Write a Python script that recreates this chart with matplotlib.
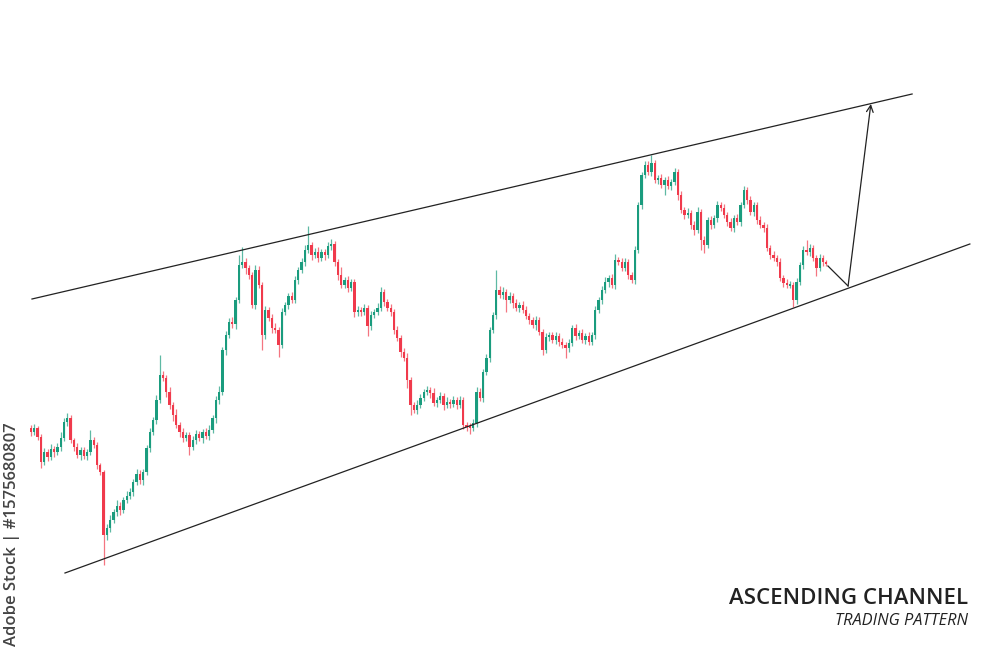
import matplotlib
matplotlib.use("Agg")
import matplotlib.pyplot as plt

# ---- data (levels; axis is drawn inverted: smaller = higher) ----
first_open = 428
close_levels = [
    432, 428, 437, 462, 452, 457, 449, 452, 447, 438,
    422, 418, 440, 447, 455, 450, 456, 452, 440, 445,
    465, 472, 535, 528, 520, 512, 506, 510, 500, 496,
    492, 482, 474, 480, 472, 448, 432, 420, 400, 375,
    378, 392, 405, 415, 425, 432, 438, 435, 447, 440,
    434, 438, 432, 436, 430, 418, 400, 392, 350, 335,
    322, 324, 300, 265, 262, 268, 275, 305, 270, 285,
    335, 310, 318, 328, 330, 345, 312, 305, 296, 300,
    280, 270, 262, 250, 245, 255, 252, 258, 252, 255,
    246, 244, 262, 275, 285, 280, 288, 282, 312, 310,
    312, 308, 326, 315, 312, 308, 292, 302, 308, 312,
    330, 338, 352, 358, 380, 405, 410, 405, 398, 392,
    390, 393, 403, 400, 396, 405, 402, 404, 400, 405,
    400, 425, 426, 428, 423, 392, 398, 372, 358, 330,
    315, 290, 295, 292, 300, 296, 303, 308, 305, 310,
    316, 320, 325, 320, 332, 350, 337, 335, 340, 336,
    342, 345, 348, 343, 328, 336, 333, 340, 336, 342,
    335, 310, 300, 290, 282, 278, 285, 260, 262, 268,
    262, 275, 280, 250, 205, 175, 165, 172, 163, 180,
    178, 185, 180, 186, 182, 172, 195, 210, 215, 213,
    225, 230, 212, 240, 245, 220, 225, 218, 205, 208,
    215, 222, 228, 218, 222, 205, 190, 200, 212, 205,
    220, 225, 228, 248, 255, 258, 262, 278, 283, 285,
    285, 300, 282, 265, 250, 252, 248, 258, 268, 258, 262, 264,
]
wick_top = [
    3, 4, 2, 3, 4, 3, 5, 3, 4, 6,
    4, 5, 3, 2, 4, 3, 3, 3, 10, 3,
    3, 2, 2, 4, 5, 3, 6, 4, 3, 5,
    4, 3, 5, 4, 3, 3, 4, 3, 5, 20,
    4, 3, 5, 3, 6, 3, 4, 3, 3, 4,
    4, 3, 3, 4, 5, 3, 4, 6, 3, 4,
    4, 5, 3, 10, 15, 4, 3, 3, 5, 4,
    3, 4, 3, 4, 5, 3, 4, 3, 3, 4,
    4, 3, 4, 5, 19, 3, 4, 5, 3, 3,
    4, 5, 3, 3, 8, 3, 4, 3, 3, 4,
    3, 4, 3, 4, 3, 5, 5, 3, 3, 4,
    3, 4, 3, 4, 5, 3, 3, 5, 4, 3,
    4, 3, 5, 3, 4, 3, 5, 3, 4, 3,
    4, 3, 3, 3, 4, 5, 4, 3, 4, 3,
    3, 20, 4, 5, 3, 4, 3, 4, 3, 4,
    4, 3, 3, 4, 3, 3, 4, 3, 3, 4,
    3, 4, 3, 4, 3, 4, 3, 4, 3, 4,
    3, 4, 3, 4, 5, 3, 4, 6, 3, 4,
    4, 3, 3, 4, 3, 3, 4, 4, 8, 3,
    3, 4, 3, 4, 3, 4, 3, 4, 3, 5,
    3, 4, 5, 3, 4, 3, 4, 3, 4, 3,
    4, 3, 4, 3, 4, 3, 4, 3, 4, 3,
    3, 4, 3, 4, 3, 4, 3, 4, 3, 4,
    4, 3, 4, 3, 4, 10, 4, 3, 3, 4, 3, 2,
]
wick_bottom = [
    4, 3, 3, 6, 3, 4, 3, 5, 3, 4,
    3, 4, 3, 4, 3, 5, 3, 4, 3, 3,
    4, 3, 30, 5, 4, 3, 4, 5, 3, 3,
    3, 4, 3, 4, 5, 3, 4, 3, 4, 3,
    3, 5, 4, 6, 3, 5, 4, 3, 8, 3,
    4, 3, 5, 3, 4, 3, 5, 4, 3, 5,
    3, 4, 5, 3, 3, 6, 4, 3, 4, 3,
    15, 4, 3, 5, 3, 12, 3, 3, 4, 3,
    3, 4, 3, 4, 3, 5, 3, 4, 3, 5,
    3, 4, 4, 5, 3, 3, 4, 3, 5, 4,
    4, 3, 10, 4, 3, 3, 3, 4, 3, 4,
    4, 3, 5, 3, 8, 10, 3, 4, 3, 3,
    3, 5, 3, 4, 3, 5, 3, 4, 3, 4,
    3, 4, 5, 6, 3, 4, 3, 4, 3, 4,
    3, 4, 3, 4, 12, 3, 5, 3, 4, 3,
    3, 4, 3, 5, 3, 5, 3, 4, 3, 4,
    4, 3, 10, 4, 3, 4, 3, 3, 4, 3,
    3, 4, 3, 4, 3, 5, 3, 4, 3, 3,
    3, 4, 3, 4, 3, 4, 3, 3, 4, 3,
    4, 3, 10, 3, 4, 3, 5, 3, 4, 3,
    4, 5, 3, 10, 8, 3, 4, 3, 4, 3,
    3, 4, 3, 4, 3, 4, 3, 4, 3, 4,
    4, 3, 4, 3, 4, 3, 4, 3, 4, 3,
    3, 7, 4, 3, 4, 3, 4, 3, 8, 3, 4, 2,
]

# channel and projection lines (candle index, level)
upper_channel_x = [0.3, 267.0]
upper_channel_y = [299, 94]
lower_channel_x = [10.3, 284.5]
lower_channel_y = [573, 244]
pullback_x = [241.5, 247.6]
pullback_y = [266, 286]
target_from = (247.6, 286)
target_to = (254.5, 104)

title = "ASCENDING CHANNEL"
subtitle = "TRADING PATTERN"
credit = "Adobe Stock | #1575680807"

GREEN = "#1a9c7e"
RED = "#f03a4c"
LINE = "#222222"

fig = plt.figure(figsize=(10, 6.67), dpi=100)
fig.patch.set_facecolor("white")
ax = fig.add_axes([0, 0, 1, 1])
ax.set_xlim(-31 / 3.3, (1000 - 31) / 3.3)
ax.set_ylim(667, 0)
ax.axis("off")

opens = [first_open] + close_levels[:-1]
for i, (o, c) in enumerate(zip(opens, close_levels)):
    col = GREEN if c <= o else RED
    top = min(o, c)
    bot = max(o, c)
    hi = top - wick_top[i]
    lo = bot + wick_bottom[i]
    ax.vlines(i, hi, lo, color=col, lw=0.9, alpha=0.7, zorder=2)
    if bot - top < 2:
        mid = (top + bot) / 2
        top, bot = mid - 1, mid + 1
    ax.bar(i, bot - top, bottom=top, width=0.72, color=col,
           linewidth=0, zorder=3)

ax.plot(upper_channel_x, upper_channel_y, color=LINE, lw=0.9, zorder=4)
ax.plot(lower_channel_x, lower_channel_y, color=LINE, lw=0.9, zorder=4)
ax.plot(pullback_x, pullback_y, color=LINE, lw=0.9, zorder=4)
ax.annotate("", xy=target_to, xytext=target_from,
            arrowprops=dict(arrowstyle="->", lw=0.9, color=LINE,
                            mutation_scale=12, shrinkA=0, shrinkB=0),
            zorder=4)

fig.text(0.968, 1 - 598 / 667, title, ha="right", va="center",
         fontsize=16, fontweight="semibold", family="Open Sans", color="#222222")
fig.text(0.968, 1 - 621 / 667, subtitle, ha="right", va="center",
         fontsize=11.8, style="italic", family="Open Sans", color="#222222")
fig.text(0.012, 1 - 534 / 667, credit, ha="center", va="center",
         rotation=90, fontsize=12, fontweight="semibold", family="Open Sans",
         color="#444444")

fig.savefig("out.png", dpi=100, facecolor="white")
